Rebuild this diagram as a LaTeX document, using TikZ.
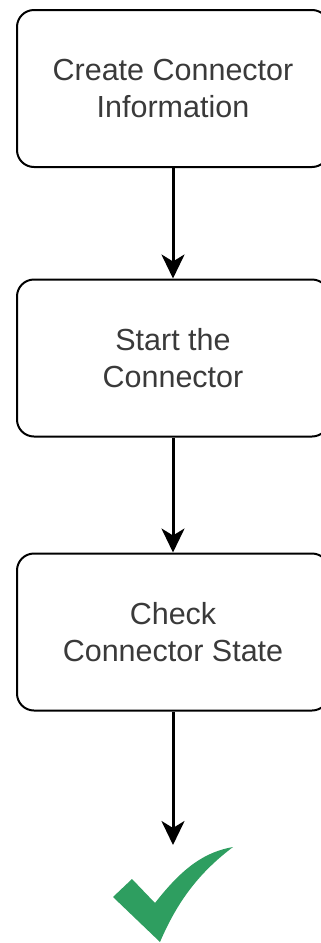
\documentclass[tikz,border=0pt]{standalone}
\usepackage{fontspec}
\setmainfont{Liberation Sans}
\usetikzlibrary{arrows.meta}
\definecolor{txt}{HTML}{3A3A3A}
\definecolor{okgreen}{RGB}{46,158,96}
\begin{document}
\begin{tikzpicture}[x=1pt,y=-1pt,
  stepbox/.style={draw=black, line width=2pt, rounded corners=17pt,
    minimum width=312pt, minimum height=157pt, inner sep=0pt,
    align=center, text=txt,
    font=\fontsize{30.5}{37}\selectfont},
  flow/.style={draw=black, line width=3pt,
    -{Stealth[length=24pt, width=23pt, inset=7pt]}}]
  \useasboundingbox (0,0) rectangle (321,943);
  \clip (0,0) rectangle (321,943);

  % process steps
  \node[stepbox] (create) at (173,88.5) {Create Connector\\Information};
  \node[stepbox] (start)  at (173,358)  {Start the\\Connector};
  \node[stepbox] (check)  at (173,632)  {Check\\Connector State};
  \coordinate (done) at (173,845);

  % connectors
  \draw[flow] (create.south) -- (start.north);
  \draw[flow] (start.south) -- (check.north);
  \draw[flow] (check.south) -- (done);

  % success tick
  \fill[okgreen] (113,897) -- (132,879) -- (155,903)
    .. controls (183,867) and (205,852) .. (233,847)
    .. controls (200,872) and (178,900) .. (160,942) -- cycle;
\end{tikzpicture}
\end{document}
